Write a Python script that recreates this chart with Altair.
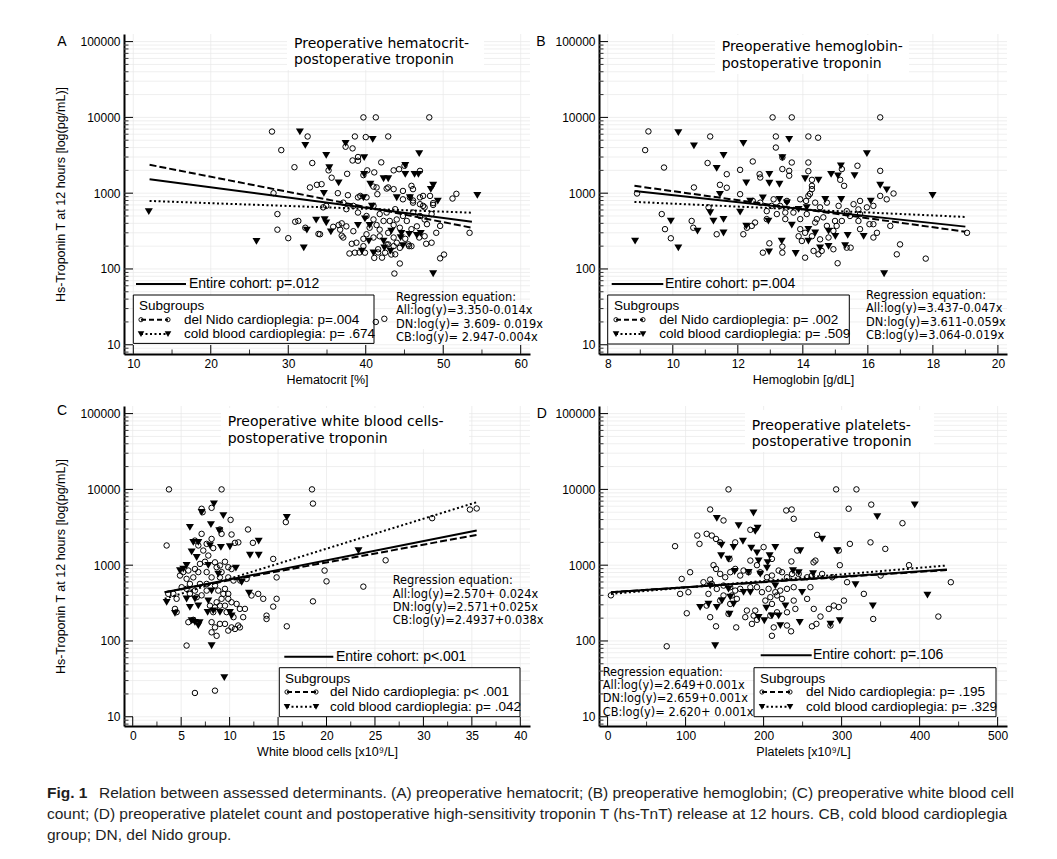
import altair as alt
import pandas as pd

SANS = "Liberation Sans, Arial, Helvetica, sans-serif"
VERD = "DejaVu Sans, Verdana, sans-serif"
NARROW = "Liberation Sans Narrow, Arial Narrow, Liberation Sans, sans-serif"
TRI = "M-1,-0.8L1,-0.8L0,0.9Z"

# ---------------- Panel A : hematocrit ----------------
A_dn = [(39.7,10000),(41.3,10000),(48.2,10000),(27.9,6500),(32.5,5600),(38.6,5600),(40.0,5500),(42.9,5600),
        (29.1,3700),(37.4,4100),(38.3,3900),(39.0,3000),(30.8,2200),(33.1,2500),(35.2,2000),(38.3,2700),
        (42.0,2550),(43.6,2000),(45.0,2300),(47.0,1970),(40.2,2000),(35.6,1600),(37.6,1800),(41.1,1880),
        (39.7,1730),(32.8,1190),(33.7,1290),(36.4,1000),(28.1,1000),(41.0,1220),(42.7,1150),(44.8,1070),
        (45.9,1250),(51.2,850),(51.7,980),(37.7,940),(39.0,880),(40.1,880),(41.5,970),(47.0,880),(48.7,740),
        (46.1,750),(47.4,680),(28.6,530),(30.9,420),(28.6,330),(30.0,255),(34.5,650),(36.9,400),(35.8,360),
        (33.9,290),(36.9,275),(38.2,215),(37.9,160),(39.2,165),(41.1,140),(41.6,165),(42.7,210),(43.3,155),
        (44.4,118),(43.7,87),(45.6,200),(46.9,260),(47.8,215),(49.1,300),(49.6,370),(47.9,390),(50.1,155),
        (49.6,138),(53.4,300),(41.3,20),(42.4,22),(39.3,920),(41.4,1190),(42.9,1190),(43.6,1130),(44.3,2070),
        (46.1,1130),(45.7,880),(47.4,920),(48.3,920),(44.8,830),(46.1,800),(47.0,715),(47.6,650),(48.7,700),
        (43.8,615),(42.7,555),(41.8,530),(41.0,450),(40.1,500),(39.0,555),(38.4,680),(37.5,615),(37.1,750),
        (41.0,680),(40.5,350),(41.4,380),(42.3,430),(43.1,430),(44.0,450),(44.8,500),(45.3,430),(46.1,555),
        (47.0,500),(47.6,450),(48.5,530),(43.6,380),(44.4,350),(45.9,335),(46.6,365),(41.8,330),(40.1,287),
        (41.0,260),(41.8,270),(42.9,300),(43.6,260),(44.0,222),(45.1,250),(39.7,250),(38.4,315),(37.5,365),
        (36.7,330),(41.6,182),(42.9,211),(43.6,200),(44.4,190),(45.5,211),(45.9,200),(38.8,222),(39.7,200),
        (37.1,260),(36.5,380),(34.3,1315),(39.0,2680),(31.3,430),(32.2,350),(34.1,287),(48.5,222),(47.6,270),
        (43.8,156),(42.1,141),(42.5,164),(39.9,164),(38.6,164),(34.9,680)]
A_cb = [(12.0,573),(25.9,232),(31.5,6470),(32.2,4310),(37.4,4580),(40.9,5170),(34.9,3180),(46.9,3340),
        (35.3,2180),(39.8,2960),(36.5,1380),(39.8,1780),(40.6,1320),(42.3,1560),(42.9,1560),(45.1,2340),
        (45.1,1780),(46.3,1780),(46.8,1780),(48.7,1280),(48.4,1130),(34.6,1000),(39.7,875),(40.8,680),
        (44.0,875),(45.7,875),(49.3,790),(54.4,940),(34.7,450),(33.6,444),(34.9,408),(32.4,327),(35.5,311),
        (39.0,378),(40.5,378),(39.9,462),(32.0,191),(40.4,234),(42.3,234),(43.3,318),(44.6,296),(45.6,287),
        (46.6,280),(39.5,173),(41.0,164),(42.4,191),(43.2,173),(44.8,205),(47.1,296),(44.5,260),(48.7,87)]
A_line_x = [12.1, 53.7]
A_all = [1530, 420]
A_dnl = [2370, 350]
A_cbl = [790, 553]

# ---------------- Panel B : hemoglobin ----------------
B_dn = [(13.07,10000),(13.66,10000),(16.38,10000),(9.25,6530),(11.15,5600),(13.17,5600),(14.17,5600),(14.47,5400),
        (9.15,3700),(13.17,4000),(13.37,2960),(9.73,2180),(11.07,2500),(12.07,2030),(11.66,1780),(12.46,2620),
        (12.67,1780),(12.69,1610),(13.37,2080),(13.58,1970),(13.58,1700),(13.66,2540),(14.17,2540),(14.17,1950),
        (14.28,1500),(14.28,1250),(14.28,1130),(14.22,980),(14.17,920),(15.20,2080),(15.15,1500),(15.27,1250),
        (15.68,2300),(16.38,1970),(16.79,990),(16.58,830),(16.38,920),(10.65,1190),(11.45,1290),(11.66,1180),
        (12.07,970),(12.46,790),(12.69,750),(13.10,830),(13.04,680),(13.30,680),(13.51,790),(13.92,830),
        (14.10,790),(14.38,750),(14.53,650),(14.74,750),(15.10,680),(15.35,580),(15.56,715),(15.76,790),
        (15.97,650),(16.17,680),(15.71,610),(15.76,530),(15.45,500),(15.20,430),(14.99,430),(14.63,480),
        (14.43,455),(14.12,530),(13.92,455),(13.71,555),(13.46,555),(13.46,455),(13.20,530),(12.89,580),
        (12.89,455),(12.53,410),(12.43,370),(12.28,350),(12.17,287),(11.35,287),(11.10,650),(10.58,430),
        (10.63,350),(9.66,530),(9.76,335),(9.94,254),(13.92,335),(14.07,300),(14.28,270),(14.38,410),
        (14.74,370),(14.94,318),(15.04,370),(14.79,260),(14.53,246),(13.97,234),(13.87,270),(14.33,173),
        (14.48,156),(14.58,173),(14.94,182),(15.35,191),(15.47,191),(15.71,430),(15.76,335),(16.05,390),
        (16.17,390),(16.28,300),(16.17,260),(16.69,370),(16.99,211),(16.89,156),(17.78,137),(19.05,300),
        (12.97,218),(13.37,197),(13.37,164),(12.77,164),(14.07,141),(15.07,119),(8.9,990)]
B_cb = [(10.17,6340),(10.65,4230),(12.17,4580),(13.58,5170),(11.56,3180),(15.97,3340),(11.35,2140),(13.37,2960),
        (12.26,1380),(12.97,1780),(12.97,1360),(13.28,1320),(14.07,1560),(14.48,1500),(14.87,1780),(15.08,1700),
        (15.17,2300),(15.59,1720),(16.38,1280),(16.58,1110),(17.99,940),(11.45,970),(12.38,790),(12.77,870),
        (13.28,830),(13.51,750),(13.87,615),(14.12,650),(14.69,830),(15.18,830),(16.09,790),(11.15,555),
        (12.07,565),(11.25,430),(11.56,455),(12.94,430),(9.94,430),(12.26,370),(10.76,318),(11.56,300),
        (8.84,234),(10.17,191),(13.35,234),(13.66,380),(14.17,335),(14.38,300),(14.79,318),(15.0,270),
        (15.38,280),(15.87,270),(14.17,234),(14.53,191),(14.79,200),(15.30,205),(12.96,169),(13.78,161),(16.5,87)]
B_line_x = [8.82, 19.0]
B_all = [1070, 362]
B_dnl = [1250, 310]
B_cbl = [767, 486]

# ---------------- Panel C : white blood cells ----------------
C_dn = [(3.74,10000),(9.17,10000),(18.5,10000),(18.6,6500),(7.11,5550),(8.14,5710),(7.21,5000),(10.1,3960),
        (15.8,3700),(3.5,1820),(11.9,2960),(7.11,2590),(9.0,2960),(9.17,2590),(10.2,2540),(10.55,1970),
        (10.9,2000),(12.4,1970),(8.14,2220),(7.63,1910),(6.42,2110),(6.77,1820),(7.28,1560),(7.8,1340),
        (8.31,1680),(8.49,1090),(7.46,1110),(6.94,1040),(6.42,890),(5.74,850),(5.22,810),(4.88,730),
        (6.25,690),(6.77,810),(7.63,810),(9.0,990),(9.52,1110),(9.17,810),(9.86,940),(10.2,890),(8.66,940),
        (8.14,690),(9.0,690),(9.86,690),(10.4,627),(11.1,627),(11.75,660),(14.5,1210),(14.85,690),(12.95,418),
        (13.47,360),(14.5,284),(14.85,360),(13.81,216),(13.81,195),(15.9,156),(18.6,333),(12.26,398),
        (5.56,660),(5.9,566),(5.56,487),(5.05,512),(4.19,418),(3.67,418),(4.53,360),(4.36,265),(4.53,240),
        (5.9,418),(6.42,462),(6.94,566),(7.63,566),(6.6,378),(7.11,400),(7.63,462),(8.49,538),(8.83,462),
        (9.52,487),(9.35,418),(9.86,418),(9.86,360),(9.17,360),(8.66,324),(7.97,292),(8.49,278),(9.0,292),
        (9.52,292),(10.2,324),(10.72,308),(11.06,265),(11.58,265),(11.4,206),(10.89,160),(10.55,144),
        (10.2,151),(9.52,168),(9.0,168),(8.49,151),(8.14,177),(8.14,130),(8.66,117),(8.31,240),(9.69,240),
        (10.4,206),(11.06,151),(9.86,137),(5.56,87),(6.42,20.6),(8.49,22.1),(5.74,177),(6.25,190),
        (19.8,849),(20.0,612),(23.8,521),(26.1,1160),(30.9,4170),(34.8,5420),(35.5,5600)]
C_cb = [(8.38,6460),(7.11,5000),(9.35,4530),(5.9,3170),(8.07,3440),(8.93,2870),(13.0,2090),(6.25,2010),
        (6.77,2010),(7.97,1820),(9.1,1730),(10.03,1760),(6.08,1510),(6.6,1270),(12.1,1360),(13.0,1360),
        (10.65,920),(5.22,890),(4.88,850),(5.56,1000),(7.8,1000),(8.83,767),(11.24,596),(3.5,324),(4.36,232),
        (5.56,360),(6.42,360),(5.9,279),(6.77,292),(7.8,341),(8.14,462),(8.31,251),(7.73,240),(9.0,240),
        (12.0,430),(10.03,240),(10.2,216),(6.08,186),(6.42,177),(6.77,160),(6.9,175),(8.14,87),(9.45,33),
        (23.3,1560),(15.9,4300)]
C_line_x = [3.3, 35.5]
C_all = [438, 2866]
C_dnl = [440, 2513]
C_cbl = [360, 6780]

# ---------------- Panel D : platelets ----------------
D_dn = [(155,10000),(293,10000),(319,10000),(131.5,5430),(148.6,3890),(229,5270),(236,5430),(238.6,4090),
        (309,5550),(338,6300),(378,3580),(115,2460),(117.8,1910),(127,2590),(133.6,2460),(139,2220),
        (144.3,2000),(163.6,2000),(183,2930),(86.5,1780),(268.6,2510),(310.6,1910),(337,2000),(356,1640),
        (296.4,1560),(243,1560),(200,1730),(210.7,1210),(183,1150),(156.3,1210),(235.6,1120),(266.4,1150),
        (264,1090),(297.7,1000),(135.8,1000),(139,893),(105.8,807),(95,659),(122.9,596),(131.5,646),
        (144.3,767),(150.8,693),(157.2,807),(163.6,893),(170,730),(174.3,850),(180.7,807),(191.5,1000),
        (195.7,807),(204.3,693),(210.7,730),(219.3,850),(223.6,807),(230,693),(236.5,767),(245,767),
        (255.8,693),(262,730),(275,767),(288,693),(307,596),(328.5,418),(350,730),(386.4,1000),(440,596),
        (424,210),(340.5,195),(93,418),(103.6,440),(101.5,232),(133.6,566),(140,486),(148.6,538),(157.2,512),
        (163.6,462),(170,487),(159.3,398),(148.6,398),(144.3,341),(157.2,308),(165.7,359),(129.3,418),
        (127,293),(131.5,206),(139,156),(155,228),(164.9,151),(183,512),(191.5,512),(197.9,440),(206.4,487),
        (215,440),(221.4,462),(230,487),(238.6,512),(217.2,398),(208.6,378),(202.2,341),(210.7,308),
        (223.6,359),(238.6,341),(255.8,359),(260,512),(240.7,265),(230,239),(217.2,239),(208.6,216),(213,151),
        (210.7,117),(189.3,252),(187.2,216),(185,168),(191.5,190),(178.6,252),(176.5,206),(230,160),
        (235.2,134),(262,156),(267.7,168),(264.3,265),(272.9,210),(283.6,265),(290,293),(296.4,280),
        (285.7,160),(303,341),(75.8,85),(4.3,400)]
D_cb = [(140,4170),(168,3340),(187,4910),(192.3,3110),(189.3,2810),(173.5,2080),(146,1850),(161.5,1730),
        (145.6,1340),(155,1210),(184.2,1690),(191.5,1460),(193.6,1150),(205.2,1090),(215,1730),(207.7,1340),
        (204.3,920),(275,2220),(247,1560),(294.3,1560),(345.7,4390),(393.7,6270),(162.8,830),(180.7,807),
        (195.7,767),(237.7,850),(245,800),(263.4,780),(131.5,538),(155,487),(174.3,440),(183,440),(215,538),
        (249.3,440),(317.8,556),(410,405),(340,293),(157.2,380),(146.5,341),(118.6,279),(129.3,308),(140,279),
        (161.5,308),(203.5,273),(210.7,216),(219.3,216),(227.9,293),(193.6,206),(200.9,186),(221.4,160),
        (246.3,177),(285.7,168),(297.7,186),(156.3,228),(137.9,87)]
D_line_x = [4.3, 435]
D_all = [438, 875]
D_dnl = [440, 862]
D_cbl = [418, 990]

# ---------------- texts ----------------
YTITLE = "Hs-Troponin T at 12 hours [log(pg/mL)]"
Y_MAJOR = [10, 100, 1000, 10000, 100000]
YDOM = [7.55, 126000]
Y_MINOR = [m * 10 ** e for e in range(0, 5) for m in range(2, 10) if m * 10 ** e > YDOM[0]]
H = 320

CAPTION = [
    "Relation between assessed determinants. (A) preoperative hematocrit; (B) preoperative hemoglobin; (C) preoperative white blood cell",
    "count; (D) preoperative platelet count and postoperative high-sensitivity troponin T (hs-TnT) release at 12 hours. CB, cold blood cardioplegia",
    "group; DN, del Nido group.",
]

TFS = 14      # panel title font size
LFS = 13.5    # legend font size
RFS = 11.4    # regression font size


def one():
    return pd.DataFrame({"k": [0]})


def txt(t, x, y, font=SANS, size=12.5, align="left", weight="normal", color="black"):
    return alt.Chart(pd.DataFrame({"t": [t]})).mark_text(
        font=font, fontSize=size, align=align, baseline="middle", fontWeight=weight, color=color
    ).encode(text="t:N", x=alt.value(x), y=alt.value(y))


def hline(x1, x2, y, dash=None, width=2.0):
    kw = dict(color="black", strokeWidth=width)
    if dash:
        kw["strokeDash"] = dash
    return alt.Chart(one()).mark_rule(**kw).encode(x=alt.value(x1), x2=alt.value(x2), y=alt.value(y))


def sym(x, y, shape, filled, size):
    return alt.Chart(one()).mark_point(
        shape=shape, filled=filled, color="black", size=size, strokeWidth=0.9, opacity=1
    ).encode(x=alt.value(x), y=alt.value(y))


def rect(x1, x2, y1, y2, stroke=False):
    kw = dict(fill="white")
    if stroke:
        kw.update(stroke="black", strokeWidth=1)
    return alt.Chart(one()).mark_rect(**kw).encode(
        x=alt.value(x1), x2=alt.value(x2), y=alt.value(y1), y2=alt.value(y2))


def panel(c, extra=None):
    W = c["W"]
    xs = alt.Scale(domain=c["xdom"], nice=False, zero=False)
    ys = alt.Scale(type="log", domain=YDOM, nice=False)
    xaxis = alt.Axis(values=c["xmaj"], title=c["xtitle"], grid=False, ticks=False, tickSize=0,
                     domainWidth=2, domainColor="black", labelFont=SANS, labelFontSize=12,
                     labelColor="black", labelPadding=4, labelFlush=False, labelOverlap=False,
                     titleFont=SANS, titleFontSize=12.5, titleFontWeight="normal", titleColor="black",
                     titlePadding=4)
    ykw = dict(values=Y_MAJOR, format="d", grid=False, ticks=False, tickSize=0, domainWidth=2,
               domainColor="black", labelFont=SANS, labelFontSize=12, labelColor="black",
               labelPadding=4, labelFlush=False, labelOverlap=False, titleFont=SANS, titleFontSize=12.5,
               titleFontWeight="normal", titleColor="black", titlePadding=12)
    ykw["title"] = YTITLE if c["ytitle"] else None
    yaxis = alt.Axis(**ykw)

    def X():
        return alt.X("x:Q", scale=xs, axis=xaxis)

    def Y():
        return alt.Y("y:Q", scale=ys, axis=yaxis)

    L = []
    L.append(alt.Chart(pd.DataFrame({"y": Y_MAJOR + Y_MINOR})).mark_rule(color="#e8e8e8", strokeWidth=0.7)
             .encode(y=Y(), x=alt.value(0), x2=alt.value(W)))
    L.append(alt.Chart(pd.DataFrame({"x": c["xmaj"]})).mark_rule(color="#e8e8e8", strokeWidth=0.7)
             .encode(x=X(), y=alt.value(0), y2=alt.value(H)))
    tb = c["titlebg"]
    L.append(rect(tb[0], tb[1], tb[2], tb[3]))
    bx = c["box"]
    L.append(rect(bx[0], bx[1], bx[2], bx[3], stroke=True))
    L.append(alt.Chart(pd.DataFrame(c["dn"], columns=["x", "y"])).mark_point(
        shape="circle", filled=False, color="black", size=30, strokeWidth=1.0, opacity=1).encode(x=X(), y=Y()))
    L.append(alt.Chart(pd.DataFrame(c["cb"], columns=["x", "y"])).mark_point(
        shape=TRI, filled=True, color="black", size=64, opacity=1).encode(x=X(), y=Y()))
    for yy, dash in [(c["all"], None), (c["dnl"], [7, 3]), (c["cbl"], [2, 2.5])]:
        kw = dict(color="black", strokeWidth=2)
        if dash:
            kw["strokeDash"] = dash
        L.append(alt.Chart(pd.DataFrame({"x": c["lx"], "y": yy})).mark_line(**kw).encode(x=X(), y=Y()))
    # inward ticks
    L.append(alt.Chart(pd.DataFrame({"y": Y_MAJOR})).mark_rule(color="black", strokeWidth=1)
             .encode(y=Y(), x=alt.value(0), x2=alt.value(9)))
    L.append(alt.Chart(pd.DataFrame({"y": Y_MINOR})).mark_rule(color="black", strokeWidth=0.8)
             .encode(y=Y(), x=alt.value(0), x2=alt.value(4.5)))
    L.append(alt.Chart(pd.DataFrame({"x": c["xmaj"]})).mark_rule(color="black", strokeWidth=1)
             .encode(x=X(), y=alt.value(H), y2=alt.value(H - 9)))
    L.append(alt.Chart(pd.DataFrame({"x": c["xmin"]})).mark_rule(color="black", strokeWidth=0.8)
             .encode(x=X(), y=alt.value(H), y2=alt.value(H - 4.5)))
    # letter and title
    lt = c["letter"]
    L.append(txt(lt[0], lt[1], lt[2], SANS, 14, align="center"))
    tx, ty1, ty2 = c["title"]
    L.append(txt(c["tlines"][0], tx, ty1, VERD, TFS))
    L.append(txt(c["tlines"][1], tx, ty2, VERD, TFS))
    # entire cohort
    cx1, cx2, cy, ctx = c["cohort"]
    L.append(hline(cx1, cx2, cy))
    L.append(txt(c["cohort_t"], ctx, cy, SANS, 14))
    # subgroup legend
    sx, sy = c["subg"]
    L.append(txt("Subgroups", sx, sy, SANS, LFS))
    s1, s2, r1, r2, stx = c["rows"]
    L.append(hline(s1, s2, r1, dash=[5, 3]))
    L.append(sym(s1, r1, "circle", False, 18))
    L.append(sym(s2, r1, "circle", False, 18))
    L.append(txt(c["rowt"][0], stx, r1, SANS, LFS))
    L.append(hline(s1, s2, r2, dash=[2, 2.5]))
    L.append(sym(s1, r2, TRI, True, 44))
    L.append(sym(s2, r2, TRI, True, 44))
    L.append(txt(c["rowt"][1], stx, r2, SANS, LFS))
    # regression equations
    rx, rys = c["reg"]
    for t, yv in zip(c["regt"], rys):
        L.append(txt(t, rx, yv, VERD, RFS))
    if extra:
        L.extend(extra)
    return alt.layer(*L).properties(width=W, height=H)


cfgA = dict(W=406, xdom=[8.8, 61.2], xmaj=[10, 20, 30, 40, 50, 60], xmin=[15, 25, 35, 45, 55],
            xtitle="Hematocrit [%]", ytitle=True, dn=A_dn, cb=A_cb, lx=A_line_x, all=A_all, dnl=A_dnl, cbl=A_cbl,
            letter=("A", -62, 8), title=(170, 10, 26),
            tlines=["Preoperative hematocrit-", "postoperative troponin"], titlebg=(163, 360, 0, 36),
            cohort=(12, 62, 250, 65), cohort_t="Entire cohort: p=.012",
            box=(9.3, 250, 261, 309.4), subg=(15, 271.7), rows=(17, 44, 285.7, 300, 60),
            rowt=["del Nido cardioplegia: p=.004", "cold blood cardioplegia: p= .674"],
            reg=(272, [264, 277.3, 290.6, 304]),
            regt=["Regression equation:", "All:log(y)=3.350-0.014x", "DN:log(y)= 3.609- 0.019x",
                  "CB:log(y)= 2.947-0.004x"])
cfgB = dict(W=408, xdom=[7.73, 20.28], xmaj=[8, 10, 12, 14, 16, 18, 20], xmin=[9, 11, 13, 15, 17, 19],
            xtitle="Hemoglobin [g/dL]", ytitle=False, dn=B_dn, cb=B_cb, lx=B_line_x, all=B_all, dnl=B_dnl, cbl=B_cbl,
            letter=("B", -58, 8), title=(122.7, 13.4, 30),
            tlines=["Preoperative hemoglobin-", "postoperative troponin"], titlebg=(116, 310, 1, 40),
            cohort=(12.7, 64.3, 250, 66), cohort_t="Entire cohort: p=.004",
            box=(8.7, 250.3, 261, 310), subg=(15, 271.7), rows=(17, 44, 285.7, 300, 60.3),
            rowt=["del Nido cardioplegia: p= .002", "cold blood cardioplegia: p= .509"],
            reg=(267, [262, 275.4, 288.7, 302]),
            regt=["Regression equation:", "All:log(y)=3.437-0.047x", "DN:log(y)=3.611-0.059x",
                  "CB:log(y)=3.064-0.019x"])
cfgC = dict(W=406, xdom=[-0.9, 41.0], xmaj=[0, 5, 10, 15, 20, 25, 30, 35, 40],
            xmin=[2.5, 7.5, 12.5, 17.5, 22.5, 27.5, 32.5, 37.5],
            xtitle="White blood cells [x10\u2079/L]", ytitle=True, dn=C_dn, cb=C_cb, lx=C_line_x, all=C_all,
            dnl=C_dnl, cbl=C_cbl, letter=("C", -62, 5), title=(103.7, 16, 33),
            tlines=["Preoperative white blood cells-", "postoperative troponin"], titlebg=(97, 345, 2, 43),
            cohort=(160.3, 209.3, 250.7, 212), cohort_t="Entire cohort:  p<.001",
            box=(155.3, 396, 261.7, 310.7), subg=(161, 272.7), rows=(163, 192, 286, 300.7, 206),
            rowt=["del Nido cardioplegia: p< .001", "cold blood cardioplegia: p= .042"],
            reg=(268.7, [175, 189, 202.3, 215]),
            regt=["Regression equation:", "All:log(y)=2.570+ 0.024x", "DN:log(y)=2.571+0.025x",
                  "CB:log(y)=2.4937+0.038x"])
cfgD = dict(W=408, xdom=[-11, 512], xmaj=[0, 100, 200, 300, 400, 500], xmin=[50, 150, 250, 350, 450],
            xtitle="Platelets [x10\u2079/L]", ytitle=False, dn=D_dn, cb=D_cb, lx=D_line_x, all=D_all,
            dnl=D_dnl, cbl=D_cbl, letter=("D", -57.3, 8), title=(152.7, 20, 36),
            tlines=["Preoperative platelets-", "postoperative troponin"], titlebg=(146, 335, 4, 46),
            cohort=(161.7, 212.7, 249.3, 214), cohort_t="Entire cohort: p=.106",
            box=(155, 397, 261.7, 310.7), subg=(161, 272.7), rows=(163, 191, 286, 300.7, 207),
            rowt=["del Nido cardioplegia: p= .195", "cold blood cardioplegia: p= .329"],
            reg=(3.7, [266.7, 280, 293.3, 306.7]),
            regt=["Regression equation:", "All:log(y)=2.649+0.001x", "DN:log(y)=2.659+0.001x",
                  "CB:log(y)= 2.620+ 0.001x"])

# caption, drawn below panel C (positions relative to panel C's plot area)
capcol = "#1e1e1e"
CAP_Y0 = 386.7
CFS = 15.5
caption_layers = [
    txt("Fig. 1", -77, CAP_Y0, NARROW, CFS, weight="bold", color=capcol),
    txt(CAPTION[0], -25, CAP_Y0, NARROW, CFS, color=capcol),
    txt(CAPTION[1], -77, CAP_Y0 + 21, NARROW, CFS, color=capcol),
    txt(CAPTION[2], -77, CAP_Y0 + 42, NARROW, CFS, color=capcol),
]

chart = alt.concat(
    panel(cfgA), panel(cfgB), panel(cfgC, caption_layers), panel(cfgD),
    columns=2, spacing={"row": 52, "column": 69}, bounds="flush"
).properties(
    padding={"left": 39, "top": 25, "right": 5, "bottom": 5}, background="white"
).configure_view(stroke=None)

chart.save("out.html", embed_options={"renderer": "svg", "actions": False})
